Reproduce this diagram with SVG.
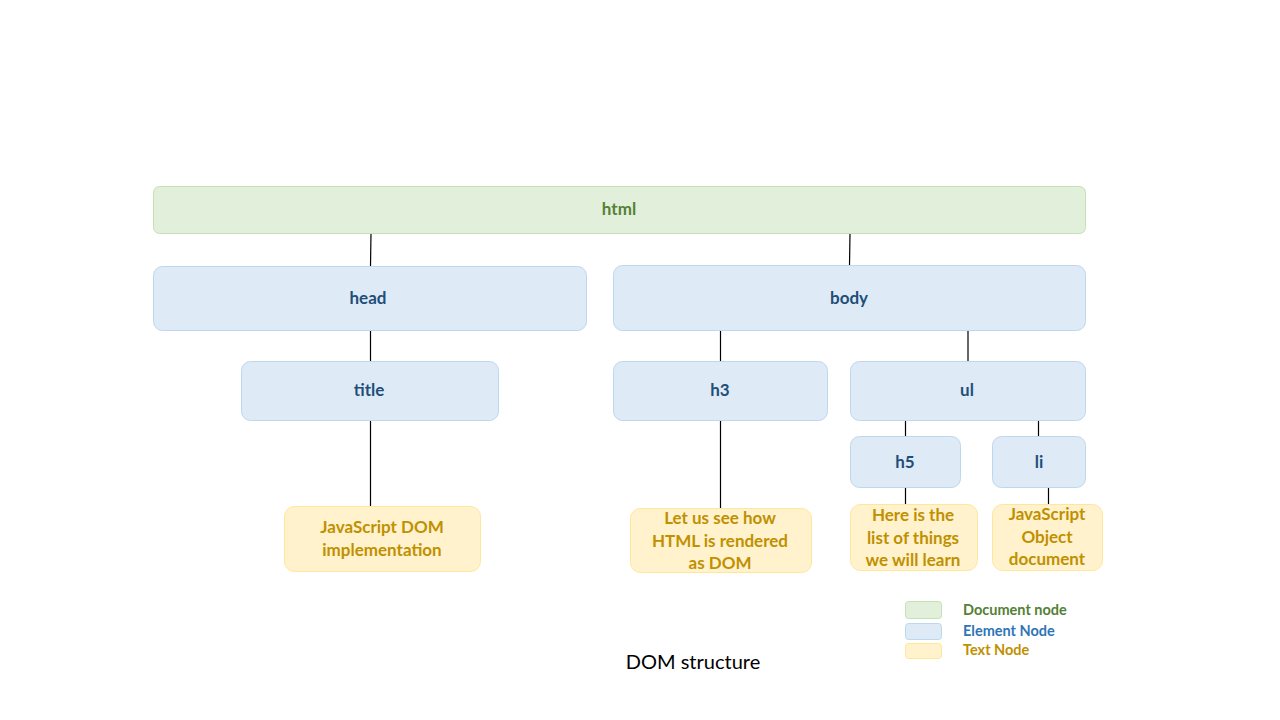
<svg xmlns="http://www.w3.org/2000/svg" width="1280" height="720" viewBox="0 0 1280 720">
<style>
.doc{fill:#e2efda;stroke:#c5e0b4;stroke-width:1}
.el{fill:#deebf7;stroke:#bdd7ee;stroke-width:1}
.tx{fill:#fff2cc;stroke:#ffe699;stroke-width:1}
text{font-family:Lato,"Open Sans","Liberation Sans",sans-serif;font-weight:bold;font-size:17px;text-anchor:middle;dominant-baseline:central}
.tdoc{fill:#538135}
.tel{fill:#1f4e79}
.ttx{fill:#bf9000}
.conn line{stroke:#000;stroke-width:1.2}
</style>
<rect width="1280" height="720" fill="#fff"/>
<g class="conn" id="connectors">
<line x1="371" y1="233" x2="370.5" y2="266"/>
<line x1="850" y1="233" x2="849.5" y2="265"/>
<line x1="370.5" y1="330" x2="370.5" y2="361"/>
<line x1="370.5" y1="420" x2="370.5" y2="507"/>
<line x1="720.5" y1="330" x2="720.5" y2="361"/>
<line x1="968" y1="330" x2="968" y2="361"/>
<line x1="720.5" y1="420" x2="720.5" y2="509"/>
<line x1="905.5" y1="420" x2="905.5" y2="436"/>
<line x1="1038.5" y1="420" x2="1038.5" y2="436"/>
<line x1="905.5" y1="487" x2="905.5" y2="504"/>
<line x1="1048.5" y1="487" x2="1048.5" y2="504"/>
</g>
<g id="html"><rect class="doc" x="153.5" y="186.5" width="932" height="47" rx="6"/><text class="tdoc" x="619" y="208">html</text></g>
<g id="head"><rect class="el" x="153.5" y="266.5" width="433" height="64" rx="9"/><text class="tel" x="368" y="297">head</text></g>
<g id="body"><rect class="el" x="613.5" y="265.5" width="472" height="65" rx="9"/><text class="tel" x="849" y="297">body</text></g>
<g id="title"><rect class="el" x="241.5" y="361.5" width="257" height="59" rx="9"/><text class="tel" x="369" y="389">title</text></g>
<g id="h3"><rect class="el" x="613.5" y="361.5" width="214" height="59" rx="9"/><text class="tel" x="720" y="389">h3</text></g>
<g id="ul"><rect class="el" x="850.5" y="361.5" width="235" height="59" rx="9"/><text class="tel" x="967" y="389">ul</text></g>
<g id="h5"><rect class="el" x="850.5" y="436.5" width="110" height="51" rx="9"/><text class="tel" x="905" y="461">h5</text></g>
<g id="li"><rect class="el" x="992.5" y="436.5" width="93" height="51" rx="9"/><text class="tel" x="1039" y="461">li</text></g>
<g id="t-title"><rect class="tx" x="284.5" y="506.5" width="196" height="65" rx="10"/><text class="ttx" x="382" y="526">JavaScript DOM</text><text class="ttx" x="382" y="549">implementation</text></g>
<g id="t-h3"><rect class="tx" x="630.5" y="508.5" width="181" height="64" rx="10"/><text class="ttx" x="720" y="517">Let us see how</text><text class="ttx" x="720" y="540">HTML is rendered</text><text class="ttx" x="720" y="562">as DOM</text></g>
<g id="t-h5"><rect class="tx" x="850.5" y="504.5" width="127" height="66" rx="10"/><text class="ttx" x="913" y="514">Here is the</text><text class="ttx" x="913" y="537">list of things</text><text class="ttx" x="913" y="559">we will learn</text></g>
<g id="t-li"><rect class="tx" x="992.5" y="504.5" width="110" height="66" rx="10"/><text class="ttx" x="1047" y="513">JavaScript</text><text class="ttx" x="1047" y="536">Object</text><text class="ttx" x="1047" y="558">document</text></g>
<g id="legend">
<rect class="doc" x="905.5" y="601.5" width="36" height="17" rx="3"/>
<rect class="el" x="905.5" y="623.5" width="36" height="16" rx="3"/>
<rect class="tx" x="905.5" y="643.5" width="36" height="15" rx="3"/>
<text class="tdoc" x="963" y="609" style="text-anchor:start;font-size:14.5px">Document node</text>
<text x="963" y="630" style="text-anchor:start;font-size:14.5px;fill:#2e75b6">Element Node</text>
<text class="ttx" x="963" y="649" style="text-anchor:start;font-size:14.5px">Text Node</text>
</g>
<text x="693" y="661" style="font-weight:normal;font-size:20px;fill:#000">DOM structure</text>
</svg>
